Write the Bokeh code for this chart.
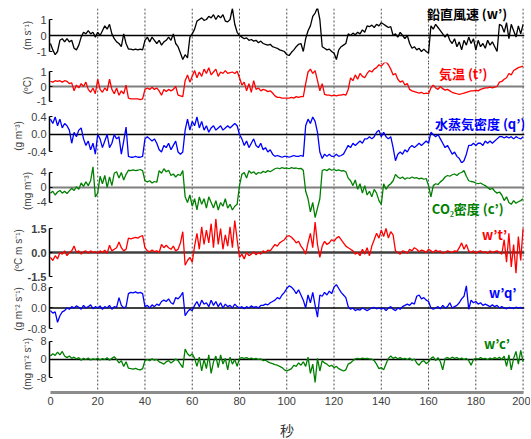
from bokeh.plotting import figure
from bokeh.models import Range1d, Span, Label, FixedTicker, NumeralTickFormatter, Spacer
from bokeh.layouts import column, row
from bokeh.embed import file_html
from bokeh.resources import INLINE

# ---------------- data ----------------
seconds = list(range(201))

w_prime = [
    -0.5, -0.9, -1.2, -1.0, -0.3, -0.2, -0.4, -0.2, -0.4, -0.3,
    -0.8, -0.9, -0.6, -0.1, 0.2, 0.1, 0.3, 0.1, 0.2, -0.1,
    0.2, 0.0, 0.3, 0.6, 0.4, 0.7, 0.1, -0.2, -0.4, -0.5,
    -0.7, 0.1, -0.5, -0.85, -0.85, -0.9, -0.85, -0.9, -0.85, -0.9,
    -0.3, -0.1, -0.4, -0.1, -0.3, -0.5, -0.3, -0.6, -0.4, -0.3,
    -0.1, -0.3, 0.1, -0.5, -0.7, -1.1, -1.5, -1.2, -1.4, -0.1,
    0.1, 0.4, 0.9, 1.0, 1.1, 0.95, 1.0, 1.2, 1.1, 1.3,
    1.0, 1.25, 1.1, 1.3, 0.9, 0.85, 1.0, 1.7, 0.7, 0.2,
    0.0, -0.1, -0.2, -0.15, -0.3, -0.25, -0.35, -0.3, -0.45, -0.35,
    -0.5, -0.55, -0.6, -0.55, -0.7, -0.75, -0.8, -0.9, -0.95, -1.0,
    -1.2, -1.25, -1.05, -0.9, -0.7, -0.55, -0.5, -1.0, -0.2, 0.3,
    0.6, 1.2, 1.4, 1.75, 1.0, -0.7, -0.8, -0.9, -0.85, -1.0,
    -1.1, -1.5, -0.9, -0.7, -0.6, -0.5, 0.1, 0.0, 0.15, 0.05,
    0.2, 0.1, 0.35, 0.2, 0.6, 0.55, 0.65, 0.5, 0.7, 0.6,
    0.8, 0.7, 0.6, 0.5, 0.55, 0.0, 0.1, -0.1, 0.2, 0.0,
    -0.2, 0.0, -0.5, -0.8, -0.7, -0.9, -0.8, -1.0, -0.85, -1.0,
    -1.1, 0.6, 0.4, 0.7, 0.5, 0.3, 0.1, -0.1, 0.1, -0.3,
    -0.5, -0.2, -0.7, -0.4, -0.9, -0.3, -0.6, -0.1, -0.5, -0.2,
    -0.9, -0.3, -0.7, -0.5, -0.8, -0.3, -0.6, -0.4, -0.7, -1.0,
    0.7, 0.6, 0.2, 0.8, -0.2, 0.7, 0.3, -0.1, 0.6, 0.1,
    0.7,
]

t_prime = [
    0.35, 0.3, 0.4, 0.35, 0.4, 0.3, 0.4, 0.35, 0.2, 0.25,
    -0.3, 0.1, -0.1, 0.2, 0.0, 0.3, -0.2, -0.4, -0.1, -0.5,
    0.5, -0.2, -0.4, -0.1, -0.3, 0.5, -0.2, -0.5, -0.1, -0.6,
    -0.3, -0.5, 0.1, -0.8, -0.85, -0.85, -0.85, -0.85, -0.9, -0.85,
    -0.2, -0.1, -0.2, -0.05, -0.2, -0.1, -0.3, -0.6, -0.2, -0.35,
    -0.2, -0.3, -0.2, 0.0, -0.6, -0.65, -0.7, 0.4, 0.8, 0.3,
    0.7, 1.1, 0.6, 1.0, 0.7, 1.2, 0.9, 1.3, 0.8, 1.0,
    1.2, 0.7, 1.0, 0.9, 1.1, 0.9, 0.95, 1.0, 0.9, 1.05,
    0.6, 0.1, 0.3, -0.3, 0.2, -0.4, 0.4, -0.2, -0.1, -0.3,
    -0.2, -0.25, -0.35, -0.3, -0.45, -0.65, -0.75, -0.75, -0.8, -0.8,
    -0.8, -0.8, -0.75, -0.8, -0.7, -0.75, -0.7, -0.7, 0.2, 1.0,
    1.2, 0.9, 1.1, 0.4, -0.3, 0.2, -0.55, -0.6, -0.6, -0.65,
    -0.6, -0.65, -0.6, -0.6, -0.55, -0.6, -0.2, 0.6, 0.4, 0.8,
    0.5, 0.9, 0.7, 0.6, 0.9, 1.1, 1.0, 1.2, 1.3, 1.5,
    1.4, 1.6, 1.7, 1.5, 1.2, 0.8, 0.9, 0.5, 0.3, 0.4,
    0.1, 0.2, -0.2, -0.3, -0.35, -0.4, -0.45, -0.4, -0.5, -0.45,
    -0.5, -0.1, 0.1, -0.1, -0.2, 0.0, -0.15, -0.25, -0.2, -0.3,
    -0.4, -0.45, -0.5, -0.55, -0.5, -0.45, -0.4, -0.35, -0.3, -0.3,
    -0.25, -0.3, -0.2, -0.15, -0.1, -0.1, -0.05, -0.1, -0.05, 0.0,
    0.3, 0.35, 0.5, 0.6, 0.9, 0.8, 1.1, 1.2, 1.3, 1.35,
    1.4,
]

q_prime = [
    0.35, 0.25, 0.4, 0.2, 0.35, 0.15, 0.25, 0.2, 0.1, -0.2,
    0.05, -0.05, 0.1, 0.15, -0.1, -0.25, -0.15, -0.35, -0.2, -0.45,
    0.0, -0.1, -0.3, -0.15, 0.0, -0.3, -0.2, 0.0, -0.1, -0.05,
    -0.45, -0.15, 0.17, -0.5, -0.52, -0.52, -0.5, -0.52, -0.52, -0.5,
    -0.1, -0.05, -0.1, -0.15, -0.1, -0.2, -0.35, -0.4, -0.25, -0.3,
    -0.2, -0.35, -0.25, -0.15, -0.4, -0.45, -0.4, 0.1, 0.35, 0.1,
    0.3, 0.2, 0.4, 0.15, 0.3, 0.1, 0.2, 0.05, 0.15, 0.2,
    0.1, 0.15, 0.2, 0.1, 0.15, 0.2, 0.15, 0.2, 0.25, 0.2,
    0.0, -0.1, -0.25, -0.15, -0.3, -0.2, -0.1, -0.25, -0.3, -0.2,
    -0.35, -0.3, -0.4, -0.35, -0.45, -0.5, -0.48, -0.5, -0.52, -0.5,
    -0.5, -0.52, -0.5, -0.48, -0.5, -0.5, -0.48, -0.5, 0.2, 0.35,
    0.25, 0.4, 0.3, 0.05, -0.4, -0.55, -0.45, -0.5, -0.45, -0.5,
    -0.5, -0.45, -0.5, -0.48, -0.45, -0.35, -0.25, -0.3, -0.2, -0.25,
    -0.2, -0.15, -0.2, -0.1, -0.1, -0.05, -0.1, -0.05, 0.05, 0.1,
    -0.05, 0.05, -0.05, -0.1, -0.05, -0.3, -0.6, -0.45, -0.4, -0.45,
    -0.35, -0.4, -0.3, -0.25, -0.3, -0.25, -0.2, -0.25, -0.2, -0.15,
    -0.2, 0.05, 0.0, -0.05, 0.0, -0.1, -0.2, -0.3, -0.25, -0.35,
    -0.45, -0.4, -0.5, -0.55, -0.65, -0.6, -0.45, -0.25, -0.25, -0.2,
    -0.25, -0.2, -0.2, -0.25, -0.15, -0.2, -0.15, -0.2, -0.15, -0.1,
    -0.05, -0.05, -0.08, -0.05, -0.08, -0.05, -0.1, -0.05, -0.08, -0.1,
    -0.05,
]

c_prime = [
    -1.5, -1.0, -2.0, -1.2, -0.8, -1.5, -1.0, -1.6, -0.9, -0.2,
    -0.8, 0.2, -0.5, 1.2, 0.3, 1.5, 0.5, 1.8, 5.5, -2.5,
    -1.5, 3.0, 1.0, 3.2, 0.0, 2.8, 0.5, 3.8, 4.2, 2.5,
    4.0, 2.0, 3.5, 4.6, 4.5, 4.7, 4.5, 4.6, 4.8, 4.5,
    1.8, 1.5, 1.8, 1.2, 1.6, 1.4, 4.5, 3.8, 5.0, 4.2,
    4.6, 3.2, 3.6, 2.8, 3.5, 3.2, 4.5, -2.5, -4.0, -2.0,
    -5.0, -3.0, -6.0, -2.5, -4.5, -3.0, -5.5, -2.5, -4.0, -5.5,
    -3.5, -6.0, -4.0, -5.0, -3.0, -5.5, -4.5, -6.0, -5.0, -4.5,
    0.5, 3.5, 4.0, 2.5, 4.5, 3.8, 4.2, 3.5, 4.0, 3.8,
    4.3, 4.0, 4.5, 4.2, 4.6, 5.0, 5.2, 5.0, 5.3, 5.1,
    5.2, 5.0, 5.3, 5.1, 5.2, 5.0, 5.1, 4.6, -1.0, -3.0,
    -6.5, -4.0, -8.0, -5.5, -3.0, 4.5, 4.8, 4.5, 5.0, 4.6,
    4.8, 4.5, 4.7, 4.4, 4.5, 4.2, 2.5, 1.8, 0.5, 2.0,
    -0.5, 1.0, -1.5, 0.5, -2.0, -1.0, -2.5, -0.5, -1.5, -3.5,
    -4.5, 1.0, -0.5, 0.5, 1.0, 1.8, 3.5, 2.8, 2.4, 2.8,
    2.2, 2.6, 2.4, 2.8, 2.5, 2.6, 2.3, 2.5, 2.2, 2.4,
    0.5, -2.5, 0.5, 1.0, 0.8, 1.5, 2.0, 2.8, 3.2, 3.0,
    3.4, 3.6, 3.2, 3.8, 4.0, 4.5, 3.0, 1.8, 1.6, 1.5,
    1.2, 1.0, 1.2, 0.8, 0.5, 0.0, -0.5, -0.2, -1.0, -1.5,
    -1.2, -2.0, -3.5, -2.5, -4.0, -4.5, -3.5, -4.2, -3.8, -3.5,
    -3.0,
]

wt_flux = [
    -0.3, -0.5, -0.2, -0.4, 0.0, -0.1, 0.1, -0.2, 0.0, 0.1,
    0.4, 0.0, 0.1, -0.1, 0.05, 0.1, -0.05, 0.1, 0.0, 0.05,
    -0.05, 0.1, 0.0, 0.15, -0.05, 0.45, 0.1, 0.2, 0.3, 0.65,
    0.3, 0.1, 0.2, 0.9, 0.85, 0.9, 0.95, 0.9, 1.0, 1.05,
    0.3, 0.1, 0.05, 0.15, 0.05, 0.1, 0.0, 0.5, 0.3, 0.45,
    0.3, 0.2, 0.4, 0.1, 0.2, 0.6, 1.3, -0.8, -0.5, -0.3,
    -0.6, 0.4, 1.2, 0.2, 1.6, 0.5, 1.4, 0.6, 1.8, 0.3,
    2.1, 0.5, 1.5, 0.2, 1.1, 0.4, 1.6, 0.3, 2.0, 0.8,
    -0.3, -0.1, -0.4, 0.0, -0.2, -0.1, 0.05, -0.15, 0.0, -0.1,
    0.1, 0.0, 0.15, 0.1, 0.3, 0.5, 0.4, 0.6, 0.7, 0.8,
    1.0, 1.05, 0.95, 0.8, 0.6, 0.7, 0.4, 0.2, -0.1, 0.6,
    1.2, 0.3, 1.9, 0.5, -0.3, 0.4, 0.7, 0.5, 0.6, 0.8,
    0.7, 0.9, 1.0, 0.8, 0.6, 0.4, 0.3, 0.2, 0.1, -0.1,
    0.0, -0.2, 0.2, -0.1, 0.3, -0.2, 0.4, 0.8, 1.2, 0.9,
    1.4, 1.0, 1.5, 0.9, 1.3, 1.1, 0.1, 0.0, -0.1, 0.1,
    0.05, -0.05, 0.2, 0.1, 0.3, 0.2, 0.05, 0.15, 0.1, 0.0,
    0.2, 0.1, 0.0, 0.15, 0.05, 0.1, -0.05, 0.0, 0.1, 0.05,
    0.0, 0.1, 0.05, 0.3, 0.6, 0.2, 0.5, 0.1, 0.0, 0.1,
    -0.05, 0.05, 0.1, 0.0, 0.05, -0.05, 0.1, 0.0, 0.05, 0.1,
    0.0, -0.1, 0.8, -0.6, 1.2, -0.9, 0.5, -1.3, 1.0, -0.5,
    1.5,
]

wq_flux = [
    -0.1, -0.2, -0.15, -0.55, -0.3, -0.15, -0.1, 0.0, -0.05, 0.05,
    0.0, 0.08, 0.03, -0.05, 0.1, 0.0, 0.05, 0.12, -0.03, 0.05,
    0.0, 0.08, -0.05, 0.05, 0.0, 0.1, -0.05, 0.05, 0.02, 0.4,
    0.1, 0.0, 0.05, 0.55, 0.6, 0.58, 0.62, 0.57, 0.6, 0.55,
    0.05, 0.1, 0.0, 0.12, 0.05, 0.15, 0.1, 0.25, 0.3, 0.25,
    0.35, 0.2, 0.15, 0.4, 0.35, 0.45, 0.6, -0.3, -0.15, -0.05,
    -0.1, 0.1, 0.25, 0.05, 0.3, 0.15, 0.2, 0.05, 0.3, 0.1,
    0.25, 0.05, 0.2, 0.0, 0.15, 0.05, 0.1, 0.0, 0.15, 0.05,
    0.0, 0.05, -0.03, 0.05, 0.0, 0.08, 0.02, 0.05, 0.0, 0.1,
    0.1, 0.15, 0.12, 0.2, 0.25, 0.3, 0.4, 0.35, 0.5, 0.6,
    0.75, 0.85, 0.8, 0.7, 0.55, 0.7, 0.5, 0.3, 0.0, 0.5,
    0.2, 0.6, 0.1, -0.35, 0.5, 0.45, 0.6, 0.5, 0.65, 0.55,
    0.8, 0.9, 0.75, 0.6, 0.5, 0.4, 0.05, -0.05, 0.0, -0.1,
    -0.05, -0.08, 0.0, -0.05, -0.1, -0.05, 0.0, 0.02, -0.03, 0.0,
    -0.05, 0.0, -0.1, 0.0, 0.05, -0.05, -0.1, 0.0, -0.05, 0.05,
    0.1, 0.15, 0.1, 0.2, 0.15, 0.45, 0.5, 0.35, 0.4, 0.3,
    0.25, 0.0, -0.05, 0.0, 0.05, -0.03, 0.1, 0.0, 0.05, 0.2,
    0.0, 0.05, 0.1, 0.2, 0.35, 0.45, 0.85, -0.05, 0.3, 0.2,
    0.25, 0.15, 0.2, 0.1, 0.15, 0.1, 0.05, 0.12, 0.05, 0.1,
    0.0, 0.05, 0.0, -0.03, 0.02, 0.0, -0.02, 0.03, 0.0, 0.02,
    -0.03,
]

wc_flux = [
    1.5, 2.5, 1.8, 3.2, 2.0, 3.5, 1.5, 0.8, 1.5, 0.5,
    1.0, 0.2, 0.8, -0.3, 0.5, 0.0, 0.6, -0.2, 0.3, 0.0,
    0.5, -0.2, 0.4, 0.0, 0.8, -0.3, 0.5, 1.2, 0.0, -1.5,
    -0.5, -3.0, -1.0, -3.8, -4.0, -4.2, -3.9, -4.3, -4.5, -4.0,
    -0.5, 0.0, -0.5, 0.3, -0.3, 0.0, -1.0, -1.5, -2.0, -1.0,
    -0.5, -1.5, -0.8, 0.2, -0.5, -2.0, -3.5, 4.5, 2.5, 1.5,
    2.5, 0.5, -3.0, 1.0, -5.0, 0.0, -4.0, 2.0, -6.0, -1.0,
    1.5, -3.5, 2.0, -2.0, 0.5, -4.5, 1.0, -2.0, 0.0, -3.0,
    0.5, 0.8, 0.5, 0.8, 0.3, 0.6, 0.2, 0.5, 0.0, 0.3,
    -0.5, -0.3, -1.0, -1.5, -1.8, -2.2, -2.5, -3.0, -3.5, -4.5,
    -5.0, -4.5, -4.0, -2.5, -3.0, -1.5, -2.5, -1.0, -3.0, 1.0,
    -6.0, -2.0, -10.0, 0.5, -5.0, -0.5, -1.5, -2.0, -3.0, -2.5,
    -3.5, -3.0, -4.0, -4.5, -5.0, -4.5, -2.0, -1.5, -0.5, 0.3,
    0.5, 0.3, 0.6, 0.4, 0.5, 0.3, 0.2, -0.5, -2.0, -4.0,
    -3.5, -4.5, -2.0, 0.5, 1.5, 0.5, 1.0, 0.3, 0.8, 0.2,
    0.5, 0.0, 0.6, -0.3, 0.2, -1.5, -2.5, -1.0, -0.5, -1.8,
    -1.0, 0.5, 1.2, -0.5, 0.8, -1.0, -4.5, 0.5, 0.8, 0.3,
    1.0, 0.5, 0.8, 0.2, 0.6, 0.0, 0.5, -0.5, -2.5, 0.0,
    0.5, 0.2, 0.8, 0.3, 0.5, 0.0, 0.6, 0.2, 0.8, 0.3,
    1.0, 0.0, 1.5, -3.0, 2.0, -4.5, 0.5, 3.5, -2.0, 4.0,
    -1.0,
]

x_ticks = [0, 20, 40, 60, 80, 100, 120, 140, 160, 180, 200]
guide_times = [20, 40, 60, 80, 100, 120, 140, 160, 180, 200]

ticks_w = [-1, 0, 1]
ticks_t = [-1, 0, 1]
ticks_q = [-0.4, 0.0, 0.4]
ticks_c = [-4, 0, 4]
ticks_wt = [-1.5, 0.0, 1.5]
ticks_wq = [-0.8, 0.0, 0.8]
ticks_wc = [-8, 0, 8]

# ---------------- styling / layout ----------------
BLACK, RED, BLUE, GREEN = "#000000", "#ff0000", "#0000ff", "#008000"

panels = [
    dict(y=w_prime, color=BLACK, ticks=ticks_w, fmt="0", unit="(m s⁻¹)",
         yr=(-1.6875, 1.6875), h=54, zc="#000000", zw=1.3,
         label="鉛直風速 (w’)", lx=159.3, ly=1.4, bold=False),
    dict(y=t_prime, color=RED, ticks=ticks_t, fmt="0", unit="(ºC)",
         yr=(-1.517, 1.655), h=46, zc="#7f7f7f", zw=2.0,
         label="気温 (t’)", lx=164.4, ly=0.9, bold=False),
    dict(y=q_prime, color=BLUE, ticks=ticks_q, fmt="0.0", unit="(g m⁻³)",
         yr=(-0.663, 0.594), h=55, zc="#000000", zw=1.3,
         label="水蒸気密度 (q’)", lx=162.7, ly=0.25, bold=False),
    dict(y=c_prime, color=GREEN, ticks=ticks_c, fmt="0", unit="(mg m⁻³)",
         yr=(-8.27, 6.4), h=55, zc="#7f7f7f", zw=2.0,
         label="CO₂密度 (c’)", lx=161.4, ly=-5.6, bold=False),
    dict(y=wt_flux, color=RED, ticks=ticks_wt, fmt="0.0", unit="(ºC m s⁻¹)",
         yr=(-1.875, 2.125), h=64, zc="#404040", zw=2.5,
         label="w’t’", lx=182.6, ly=1.125, bold=True),
    dict(y=wq_flux, color=BLUE, ticks=ticks_wq, fmt="0.0", unit="(g m⁻² s⁻¹)",
         yr=(-1.058, 0.98), h=53, zc="#000000", zw=1.3,
         label="w’q’", lx=185.6, ly=0.58, bold=False),
    dict(y=wc_flux, color=GREEN, ticks=ticks_wc, fmt="0", unit="(mg m⁻² s⁻¹)",
         yr=(-14.35, 10.43), h=57, zc="#000000", zw=1.3,
         label="w’c’", lx=183.5, ly=7.0, bold=False),
]

shared_x = Range1d(-0.4, 200.6)
figs = []
for i, pn in enumerate(panels):
    first = i == 0
    last = i == len(panels) - 1
    p = figure(x_range=shared_x, y_range=Range1d(*pn["yr"]),
               frame_width=475, frame_height=pn["h"],
               output_backend="svg", toolbar_location=None, title=None,
               x_axis_location="below" if last else None,
               min_border_left=38, min_border_right=8,
               min_border_top=8 if first else 0,
               min_border_bottom=47 if last else 0,
               outline_line_color=None, background_fill_color="white",
               border_fill_color="white")
    p.xgrid.visible = False
    p.ygrid.visible = False

    ya = p.yaxis[0]
    ya.ticker = FixedTicker(ticks=pn["ticks"], minor_ticks=[])
    ya.formatter = NumeralTickFormatter(format=pn["fmt"])
    ya.bounds = (pn["ticks"][0], pn["ticks"][-1])
    ya.axis_line_color = "#000000"
    ya.axis_line_width = 1.5
    ya.major_tick_in = 3
    ya.major_tick_out = 0
    ya.major_tick_line_color = "#000000"
    ya.minor_tick_line_color = None
    ya.major_label_standoff = 3
    ya.major_label_text_font = "Liberation Sans"
    ya.major_label_text_font_size = "11px"
    ya.major_label_text_color = "#404040"
    ya.major_label_text_font_style = "bold" if pn["bold"] else "normal"
    ya.axis_label = pn["unit"]
    ya.axis_label_text_font = "Liberation Sans"
    ya.axis_label_text_font_size = "10px"
    ya.axis_label_text_font_style = "normal"
    ya.axis_label_text_color = "#404040"
    ya.axis_label_standoff = 1

    if last:
        xa = p.xaxis[0]
        xa.ticker = FixedTicker(ticks=x_ticks, minor_ticks=[])
        xa.bounds = (x_ticks[0], x_ticks[-1])
        xa.axis_line_color = "#8c8c8c"
        xa.axis_line_width = 3
        xa.major_tick_in = 0
        xa.major_tick_out = 0
        xa.minor_tick_line_color = None
        xa.major_label_standoff = 4
        xa.major_label_text_font = "Liberation Sans"
        xa.major_label_text_font_size = "11px"
        xa.major_label_text_color = "#404040"
        xa.axis_label = "秒"
        xa.axis_label_text_font = "Noto Sans CJK JP"
        xa.axis_label_text_font_size = "14px"
        xa.axis_label_text_font_style = "normal"
        xa.axis_label_text_color = "#333333"
        xa.axis_label_standoff = 12

    for g in guide_times:
        p.add_layout(Span(location=g, dimension="height", line_color="#4d4d4d",
                          line_dash="2 2", line_width=1, level="underlay"))
    p.add_layout(Span(location=0, dimension="width", line_color=pn["zc"],
                      line_width=pn["zw"], level="underlay"))

    p.line(seconds, pn["y"], line_color=pn["color"], line_width=1.3)

    p.add_layout(Label(x=pn["lx"], y=pn["ly"], text=pn["label"],
                       text_font="Noto Sans CJK JP", text_font_style="bold",
                       text_font_size="13px", text_color=pn["color"],
                       text_align="left", text_baseline="middle"))
    figs.append(p)

layout = row(Spacer(width=9), column(*figs, spacing=0), spacing=0)
open("out.html", "w").write(file_html(layout, INLINE))
